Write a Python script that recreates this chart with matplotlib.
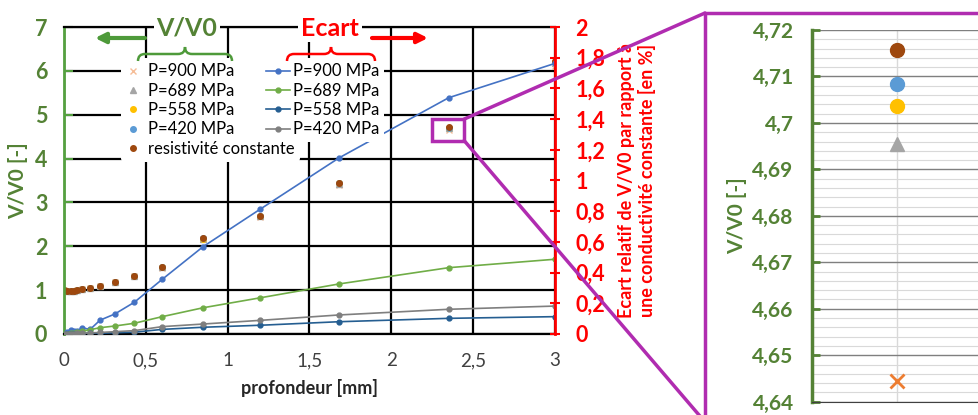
import matplotlib.pyplot as plt
from matplotlib.ticker import FuncFormatter, MultipleLocator
from matplotlib.patches import Rectangle, ConnectionPatch, PathPatch
from matplotlib.path import Path

plt.rcParams['font.family'] = ['Lato', 'DejaVu Sans']

# profondeur [mm]
depth = [0, 0.02, 0.04, 0.06, 0.08, 0.11, 0.16, 0.22, 0.31, 0.43, 0.60, 0.85, 1.20, 1.68, 2.35, 3.00]

# V/V0 [-] (axe gauche)
vv0_const = [1.00, 0.97, 0.98, 0.99, 1.00, 1.02, 1.06, 1.09, 1.18, 1.33, 1.52, 2.18, 2.69, 3.44, 4.7158, 6.22]
vv0_900 = [1.00, 0.97, 0.98, 0.99, 1.00, 1.02, 1.06, 1.089, 1.178, 1.327, 1.515, 2.168, 2.668, 3.401, 4.6445, 6.110]
vv0_689 = [1.00, 0.97, 0.98, 0.99, 1.00, 1.02, 1.06, 1.090, 1.179, 1.329, 1.518, 2.176, 2.684, 3.429, 4.6955, 6.190]
vv0_558 = [1.00, 0.97, 0.98, 0.99, 1.00, 1.02, 1.06, 1.090, 1.180, 1.330, 1.519, 2.177, 2.685, 3.432, 4.7036, 6.204]
vv0_420 = [1.00, 0.97, 0.98, 0.99, 1.00, 1.02, 1.06, 1.090, 1.180, 1.330, 1.519, 2.179, 2.688, 3.436, 4.7083, 6.209]

# Ecart relatif [%] (axe droit)
ecart_900 = [0, 0.010, 0.025, 0.020, 0.020, 0.040, 0.030, 0.090, 0.130, 0.207, 0.356, 0.569, 0.814, 1.147, 1.539, 1.763]
ecart_689 = [0, 0.003, 0.006, 0.009, 0.012, 0.018, 0.028, 0.041, 0.052, 0.070, 0.113, 0.171, 0.236, 0.326, 0.432, 0.487]
ecart_558 = [0, 0.001, 0.001, 0.002, 0.002, 0.003, 0.004, 0.005, 0.008, 0.012, 0.030, 0.044, 0.057, 0.080, 0.102, 0.113]
ecart_420 = [0, 0.001, 0.002, 0.003, 0.004, 0.005, 0.007, 0.010, 0.015, 0.022, 0.048, 0.065, 0.089, 0.124, 0.161, 0.182]

zoom_depth = 2.35

GREEN = '#548235'
GREEN_SP = '#55A040'
RED = '#FF0000'
PURPLE = '#B02CB0'

comma = FuncFormatter(lambda v, p: f'{v:g}'.replace('.', ','))

fig = plt.figure(figsize=(9.79, 4.15), dpi=100)
W, H = 979, 415


def fxy(px, py):
    return px / W, 1 - py / H


ax = fig.add_axes([64 / W, 1 - 334 / H, 491 / W, 307 / H])
ax2 = ax.twinx()

# nuages V/V0
ax.plot(depth, vv0_900, 'x', color='#ED7D31', alpha=0.5, ms=4, mew=1, label='P=900 MPa')
ax.plot(depth, vv0_689, '^', color='#A5A5A5', ms=4, label='P=689 MPa')
ax.plot(depth, vv0_558, 'o', color='#FFC000', ms=4, label='P=558 MPa')
ax.plot(depth, vv0_420, 'o', color='#5B9BD5', ms=4, label='P=420 MPa')
ax.plot(depth, vv0_const, 'o', color='#9E480E', ms=4, label='resistivité constante')

# courbes d'écart
ax2.plot(depth, ecart_900, '-o', color='#4472C4', lw=1.2, ms=3.5, label='P=900 MPa')
ax2.plot(depth, ecart_689, '-o', color='#70AD47', lw=1.2, ms=3.5, label='P=689 MPa')
ax2.plot(depth, ecart_558, '-o', color='#255E91', lw=1.2, ms=3.5, label='P=558 MPa')
ax2.plot(depth, ecart_420, '-o', color='#7F7F7F', lw=1.2, ms=3.5, label='P=420 MPa')

ax.set_xlim(0, 3)
ax.set_ylim(0, 7)
ax2.set_ylim(0, 2)
ax.xaxis.set_major_locator(MultipleLocator(0.5))
ax.yaxis.set_major_locator(MultipleLocator(1))
ax2.yaxis.set_major_locator(MultipleLocator(0.2))
ax.xaxis.set_major_formatter(comma)
ax.yaxis.set_major_formatter(comma)
ax2.yaxis.set_major_formatter(comma)

ax.grid(True, color='black', lw=1.6)
ax.set_axisbelow(True)
ax.spines['right'].set_visible(False)
ax.spines['top'].set_color('black')
ax.spines['top'].set_linewidth(1.6)
for s in ['top', 'left', 'bottom']:
    ax2.spines[s].set_visible(False)
ax.spines['left'].set_color(GREEN_SP)
ax.spines['left'].set_linewidth(2)
ax.spines['bottom'].set_color('black')
ax.spines['bottom'].set_linewidth(1.6)
ax2.spines['right'].set_color(RED)
ax2.spines['right'].set_linewidth(2)

ax.tick_params(axis='x', length=0, pad=13, labelsize=13.5, labelcolor='#404040')
ax.tick_params(axis='y', direction='in', length=6.5, width=1.5, color=GREEN_SP,
               pad=12, labelsize=15.5, labelcolor=GREEN)
for t in ax.get_yticklabels():
    t.set_fontweight('bold')
ax2.tick_params(axis='y', direction='inout', length=7, width=1.5, color=RED,
                pad=11, labelsize=15.5, labelcolor=RED)
for t in ax2.get_yticklabels():
    t.set_fontweight('bold')

ax.set_xlabel('profondeur [mm]', fontsize=13, fontweight='bold', color='#262626', labelpad=7)
ax.set_ylabel('V/V0 [-]', fontsize=15, fontweight='bold', color=GREEN, labelpad=5)
ax2.set_ylabel('Ecart relatif de V/V0 par rapport à\nune conductivité constante [en %]',
               fontsize=13, fontweight='bold', color=RED, labelpad=9, linespacing=1.25)

# légendes
h1, l1 = ax.get_legend_handles_labels()
h2, l2 = ax2.get_legend_handles_labels()
leg1 = ax2.legend(h1, l1, loc='upper left', bbox_to_anchor=(0.1, 0.925), fontsize=12,
                  frameon=True, facecolor='white', edgecolor='none', framealpha=1,
                  handlelength=0.8, handletextpad=0.5, labelspacing=0.2, borderpad=0.3)
ax2.add_artist(leg1)
ax2.legend(h2, l2, loc='upper left', bbox_to_anchor=(0.385, 0.925), fontsize=12,
           frameon=True, facecolor='white', edgecolor='none', framealpha=1,
           handlelength=1.4, handletextpad=0.2, labelspacing=0.2, borderpad=0.3)

# titres au-dessus
fig.text(*fxy(187, 28), 'V/V0', color=GREEN, fontsize=18, fontweight='bold', ha='center', va='center',
         bbox=dict(facecolor='white', edgecolor='none', pad=2))
fig.text(*fxy(330, 28), 'Ecart', color=RED, fontsize=18, fontweight='bold', ha='center', va='center',
         bbox=dict(facecolor='white', edgecolor='none', pad=2))
fig.add_artist(ConnectionPatch(fxy(145, 38), fxy(95, 38), 'figure fraction', 'figure fraction',
                               arrowstyle='-|>,head_length=0.6,head_width=0.3', color='#4E9A3A', lw=3))
fig.add_artist(ConnectionPatch(fxy(372, 38), fxy(428, 38), 'figure fraction', 'figure fraction',
                               arrowstyle='-|>,head_length=0.6,head_width=0.3', color=RED, lw=3))


def brace(x0, x1, y, h, r, color):
    xm = (x0 + x1) / 2
    pts = [(x0, y + h), (x0, y), (x0 + r, y), (xm - r, y), (xm, y), (xm, y - h),
           (xm, y), (xm + r, y), (x1 - r, y), (x1, y), (x1, y + h)]
    codes = [Path.MOVETO, Path.CURVE3, Path.CURVE3, Path.LINETO, Path.CURVE3, Path.CURVE3,
             Path.CURVE3, Path.CURVE3, Path.LINETO, Path.CURVE3, Path.CURVE3]
    pts = [fxy(px, py) for px, py in pts]
    fig.add_artist(PathPatch(Path(pts, codes), transform=fig.transFigure, fill=False,
                             edgecolor=color, lw=1.8))


brace(138, 232, 54, 7, 7, '#4E9A3A')
brace(287, 375, 54, 7, 7, RED)

# zone zoomée
idx = depth.index(zoom_depth)
rect = Rectangle((2.25, 4.41), 0.195, 0.49, fill=False, edgecolor=PURPLE, lw=2.5, zorder=5)
ax2.add_patch(rect)
rect.set_transform(ax.transData)
fig.add_artist(ConnectionPatch((2.445, 4.90), fxy(705, 13), 'data', 'figure fraction',
                               axesA=ax, color=PURPLE, lw=2.5))
fig.add_artist(ConnectionPatch((2.445, 4.41), fxy(705, 422), 'data', 'figure fraction',
                               axesA=ax, color=PURPLE, lw=2.5))
fig.add_artist(Rectangle(fxy(705, 440), 0.5, (440 - 13) / H, transform=fig.transFigure,
                         fill=False, edgecolor=PURPLE, lw=2.5))

axz = fig.add_axes([811.7 / W, 1 - 401.7 / H, 170 / W, 371.7 / H])
axz.plot(1, vv0_900[idx], 'x', color='#ED7D31', ms=10, mew=2)
axz.plot(1, vv0_689[idx], '^', color='#A5A5A5', ms=10)
axz.plot(1, vv0_558[idx], 'o', color='#FFC000', ms=10)
axz.plot(1, vv0_420[idx], 'o', color='#5B9BD5', ms=10)
axz.plot(1, vv0_const[idx], 'o', color='#9E480E', ms=10)
axz.set_xlim(0, 2)
axz.set_ylim(4.64, 4.72)
axz.set_xticks([1])
axz.set_xticklabels([])
axz.yaxis.set_major_locator(MultipleLocator(0.01))
axz.yaxis.set_minor_locator(MultipleLocator(0.002))
axz.yaxis.set_major_formatter(comma)
axz.grid(True, which='major', axis='y', color='#7F7F7F', lw=1)
axz.grid(True, which='minor', axis='y', color='#D9D9D9', lw=0.8)
axz.grid(True, which='major', axis='x', color='#D9D9D9', lw=1)
axz.set_axisbelow(True)
axz.tick_params(axis='x', length=0)
axz.tick_params(axis='y', which='major', direction='in', length=6, width=2, color=GREEN,
                pad=13, labelsize=15, labelcolor=GREEN)
axz.tick_params(axis='y', which='minor', length=0)
for t in axz.get_yticklabels():
    t.set_fontweight('bold')
for s in ['top', 'right']:
    axz.spines[s].set_visible(False)
axz.spines['left'].set_color(GREEN)
axz.spines['left'].set_linewidth(2.5)
axz.spines['bottom'].set_color('#404040')
axz.set_ylabel('V/V0 [-]', fontsize=15, fontweight='bold', color=GREEN, labelpad=4)

fig.savefig('out.png', dpi=100)
